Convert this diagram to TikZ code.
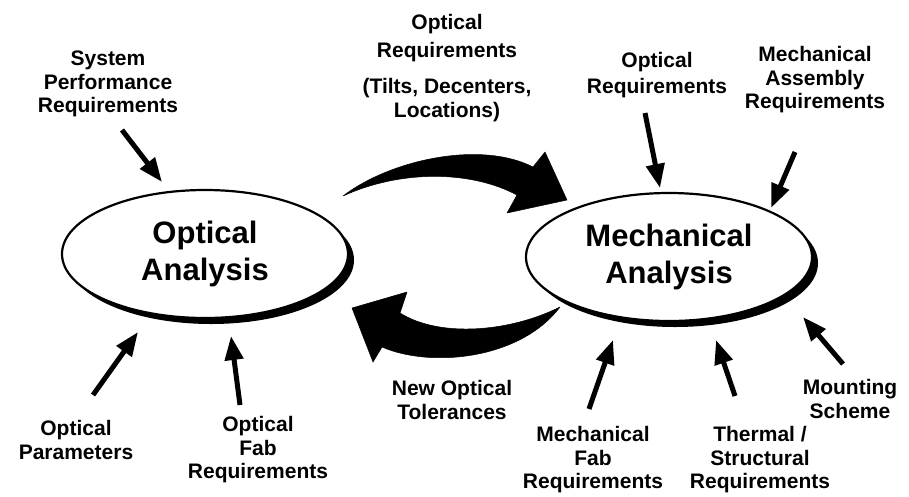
\documentclass[tikz,border=0pt]{standalone}
\usepackage{fontspec}
\setmainfont{Liberation Sans}
\usetikzlibrary{arrows.meta,shapes.geometric,shadows}
\begin{document}
\begin{tikzpicture}[x=1pt,y=-1pt,
  lbl/.style={font=\bfseries\fontsize{21}{23.5}\selectfont, align=center, inner sep=0pt},
  bigtxt/.style={font=\bfseries\fontsize{31}{37}\selectfont, align=center},
  anal/.style={ellipse, draw, line width=2.2pt, fill=white, minimum width=286pt, minimum height=128pt, inner sep=0pt,
    drop shadow={shadow xshift=6pt, shadow yshift=-6pt, opacity=1, fill=black}},
  inarrow/.style={line width=5pt, -{Triangle[length=24pt,width=18pt]}},
  bigarrow/.style={fill=black, draw=black, line width=0.5pt, line join=round},
  ]
\useasboundingbox (0,0) rectangle (909,496);

% analysis ellipses
\node[anal, bigtxt] (opt) at (205,254) {Optical\\Analysis};
\node[anal, bigtxt] (mech) at (669,257) {Mechanical\\Analysis};

% big curved arrows
\coordinate (t1tail) at (343,196);
\coordinate (t1head) at (567,200);
\fill[bigarrow] (t1tail) .. controls (390,160) and (480,140) .. (533,167)
  -- (545,152) -- (t1head) -- (507,213) -- (517,195)
  .. controls (470,170) and (400,170) .. (t1tail) -- cycle;
\coordinate (t2tail) at (560,307);
\coordinate (t2head) at (352,308);
\fill[bigarrow] (t2tail) .. controls (510,332) and (440,338) .. (400,313)
  -- (407,292) -- (t2head) -- (373,362) -- (382,347)
  .. controls (430,368) and (520,360) .. (t2tail) -- cycle;

% labels
\node[lbl] (sys) at (108,84) {System\\Performance\\Requirements};
\node[lbl] (oreq) at (447,68) {Optical\\[4pt]Requirements\\[13pt](Tilts, Decenters,\\Locations)};
\node[lbl] (oreq2) at (657,75) {Optical\\[2pt]Requirements};
\node[lbl] (mass) at (815,80) {Mechanical\\Assembly\\Requirements};
\node[lbl] (newtol) at (452,400) {New Optical\\Tolerances};
\node[lbl] (opar) at (76,440) {Optical\\Parameters};
\node[lbl] (ofab) at (258,450) {Optical\\Fab\\Requirements};
\node[lbl] (mfab) at (593,460) {Mechanical\\Fab\\Requirements};
\node[lbl] (therm) at (760,460) {Thermal /\\Structural\\Requirements};
\node[lbl] (mount) at (850,399) {Mounting\\Scheme};

% input arrows
\coordinate (a1s) at (122,130); \coordinate (a1e) at (162,182);
\coordinate (a2s) at (93,395);  \coordinate (a2e) at (138,332);
\coordinate (a3s) at (240,405); \coordinate (a3e) at (231,336);
\coordinate (a4s) at (645,113); \coordinate (a4e) at (660,188);
\coordinate (a5s) at (795,152); \coordinate (a5e) at (771,208);
\coordinate (a6s) at (589,409); \coordinate (a6e) at (613,340);
\coordinate (a7s) at (735,396); \coordinate (a7e) at (716,340);
\coordinate (a8s) at (843,364); \coordinate (a8e) at (803,317);
\draw[inarrow] (a1s) -- (a1e);
\draw[inarrow] (a2s) -- (a2e);
\draw[inarrow] (a3s) -- (a3e);
\draw[inarrow] (a4s) -- (a4e);
\draw[inarrow] (a5s) -- (a5e);
\draw[inarrow] (a6s) -- (a6e);
\draw[inarrow] (a7s) -- (a7e);
\draw[inarrow] (a8s) -- (a8e);
\end{tikzpicture}
\end{document}
